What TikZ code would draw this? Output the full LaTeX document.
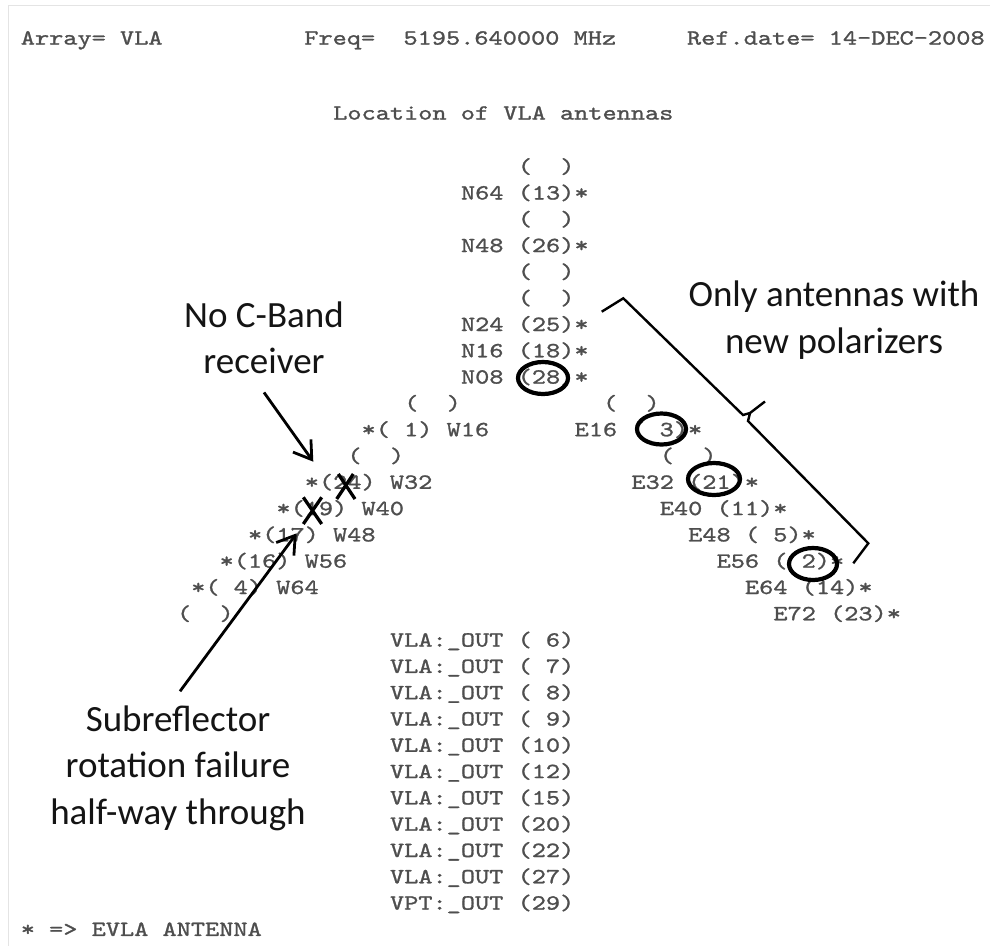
\documentclass[tikz,border=0pt]{standalone}
\usepackage{fontspec}
\setmainfont{Carlito}
\newfontfamily\mono{lmmono10-regular.otf}[FakeStretch=1.25,FakeBold=1.2]
\usetikzlibrary{arrows.meta,shapes.geometric}
\definecolor{monogray}{RGB}{78,78,78}
\definecolor{ink}{RGB}{20,20,20}
\definecolor{frame}{RGB}{228,228,228}
\newcommand\ws{\hphantom{0}}
\newcommand\mrow[4]{\node[mono] (#1) at ({390+(#2)*14.2},{376+(#3)*26.3+7.6}) {#4};}
\tikzset{
  mono/.style={font=\mono\fontsize{21.6}{21.6}\selectfont, text=monogray, anchor=base west, inner sep=0pt, outer sep=0pt},
  anno/.style={font=\fontsize{37}{46.5}\selectfont, text=ink, align=center, inner sep=0pt},
  ring/.style={draw=black, line width=4.2pt, ellipse, inner sep=0pt},
  arr/.style={draw=black, line width=2.8pt, -{Straight Barb[length=17pt,width=22pt,line width=2.8pt]}},
  xmark/.style={draw=black, line width=3.3pt},
  brace/.style={draw=black, line width=2.4pt, line join=miter}
}
\begin{document}
\begin{tikzpicture}[x=1pt,y=-1pt]
\useasboundingbox (0,0) rectangle (990,946);
\fill[white] (0,0) rectangle (990,946);
\draw[frame, line width=1pt] (8,946) -- (8,5) -- (990,5);
% header
\node[mono] (hdr) at ({390-26*14.2},44.6) {Array=\ws VLA\ws\ws\ws\ws\ws\ws\ws\ws\ws\ws Freq=\ws\ws5195.640000\ws MHz\ws\ws\ws\ws\ws Ref.date=\ws14-DEC-2008};
\node[mono] (title) at ({390-4*14.2},119.6) {Location\ws of\ws VLA\ws antennas};
% north arm
\mrow{r8}{9}{-8}{(\ws\ws)}
\mrow{n64}{5}{-7}{N64\ws(13)*}
\mrow{r6}{9}{-6}{(\ws\ws)}
\mrow{n48}{5}{-5}{N48\ws(26)*}
\mrow{r4}{9}{-4}{(\ws\ws)}
\mrow{r3}{9}{-3}{(\ws\ws)}
\mrow{n24}{5}{-2}{N24\ws(25)*}
\mrow{n16}{5}{-1}{N16\ws(18)*}
\mrow{n08}{5}{0}{N08\ws(28)*}
% west and east arms
\mrow{w8}{1}{1}{(\ws\ws)}
\mrow{e8}{15}{1}{(\ws\ws)}
\mrow{w16}{-2}{2}{*(\ws1)\ws W16}
\mrow{e16}{13}{2}{E16\ws(\ws3)*}
\mrow{w24}{-3}{3}{(\ws\ws)}
\mrow{e24}{19}{3}{(\ws\ws)}
\mrow{w32}{-6}{4}{*(24)\ws W32}
\mrow{e32}{17}{4}{E32\ws(21)*}
\mrow{w40}{-8}{5}{*(19)\ws W40}
\mrow{e40}{19}{5}{E40\ws(11)*}
\mrow{w48}{-10}{6}{*(17)\ws W48}
\mrow{e48}{21}{6}{E48\ws(\ws5)*}
\mrow{w56}{-12}{7}{*(16)\ws W56}
\mrow{e56}{23}{7}{E56\ws(\ws2)*}
\mrow{w64}{-14}{8}{*(\ws4)\ws W64}
\mrow{e64}{25}{8}{E64\ws(14)*}
\mrow{w72}{-15}{9}{(\ws\ws)}
\mrow{e72}{27}{9}{E72\ws(23)*}
% out list
\mrow{o6}{0}{10}{VLA:\_OUT\ws(\ws6)}
\mrow{o7}{0}{11}{VLA:\_OUT\ws(\ws7)}
\mrow{o8}{0}{12}{VLA:\_OUT\ws(\ws8)}
\mrow{o9}{0}{13}{VLA:\_OUT\ws(\ws9)}
\mrow{o10}{0}{14}{VLA:\_OUT\ws(10)}
\mrow{o12}{0}{15}{VLA:\_OUT\ws(12)}
\mrow{o15}{0}{16}{VLA:\_OUT\ws(15)}
\mrow{o20}{0}{17}{VLA:\_OUT\ws(20)}
\mrow{o22}{0}{18}{VLA:\_OUT\ws(22)}
\mrow{o27}{0}{19}{VLA:\_OUT\ws(27)}
\mrow{o29}{0}{20}{VPT:\_OUT\ws(29)}
\mrow{legend}{-26}{21}{*\ws=>\ws EVLA\ws ANTENNA}
% circles
\node[ring, minimum width=50pt, minimum height=32pt] (c28) at (543,378) {};
\node[ring, minimum width=49pt, minimum height=31pt] (c3) at (661.5,429) {};
\node[ring, minimum width=52pt, minimum height=32pt] (c21) at (714,479) {};
\node[ring, minimum width=48pt, minimum height=32pt] (c2) at (813,564) {};
% crosses
\draw[xmark] (338.3,474) -- (355,499) (353.3,474) -- (336.7,499);
\draw[xmark] (303.3,497.3) -- (321.7,524) (321.7,497.3) -- (303.3,524);
% bracket
\draw[brace] (601.7,311.7) -- (623.3,298.3) -- (743,415) -- (750,413) -- (765,401.5);
\draw[brace] (750,413) -- (748,421) -- (868.3,543.3) -- (853.3,563.3);
% annotations
\node[anno] (cband) at (264,338) {No C-Band\\receiver};
\node[anno] (polar) at (834,320) {Only antennas with\\new polarizers};
\node[anno] (subref) at (178,768) {Subreflector\\rotation failure\\half-way through};
\coordinate (tipA) at (313.3,461.7);
\coordinate (tipB) at (296.7,533.3);
\draw[arr] (cband.south) ++(0,18) -- (tipA);
\draw[arr] (subref.north) ++(2,-14) -- (tipB);
\end{tikzpicture}
\end{document}
